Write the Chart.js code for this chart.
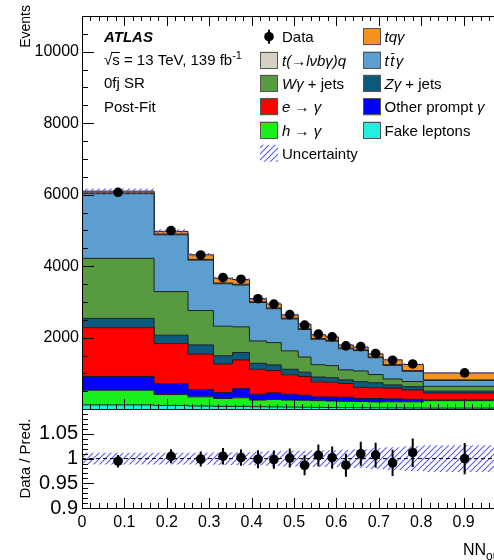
<!DOCTYPE html>
<html>
<head>
<meta charset="utf-8">
<script src="https://cdn.jsdelivr.net/npm/chart.js@4/dist/chart.umd.min.js"></script>
<style>
  html, body { margin: 0; padding: 0; background: #fff; overflow: hidden; width: 494px; height: 560px; }
  #wrap { position: relative; width: 520px; height: 560px; }
</style>
</head>
<body>
<div id="wrap"><canvas id="c" width="520" height="560"></canvas></div>
<script>
// NN output binning (variable width bins)
const binEdges = [0, 0.17, 0.25, 0.31, 0.355, 0.395, 0.435, 0.47, 0.51, 0.54, 0.575, 0.605, 0.64, 0.675, 0.71, 0.755, 0.805, 1.0];

// Post-fit background / signal yields per bin (events), stacked bottom to top
const fakeLeptons = [120, 105, 90, 80, 80, 70, 65, 60, 55, 50, 48, 45, 42, 40, 38, 35, 30];
const hToGamma    = [410, 305, 255, 220, 240, 185, 208, 195, 195, 190, 182, 175, 173, 165, 169, 172, 210];
const otherPrompt = [386, 304, 204, 166, 256, 164, 183, 164, 142, 105, 110, 115, 85, 95, 83, 70, 15];
const eToGamma    = [1364, 1121, 993, 800, 801, 698, 626, 544, 524, 420, 415, 385, 310, 300, 300, 263, 200];
const zGammaJets  = [260, 235, 258, 229, 210, 166, 157, 154, 119, 135, 125, 100, 160, 140, 90, 90, 50];
const wGammaJets  = [1680, 1220, 960, 828, 717, 626, 624, 516, 425, 345, 340, 280, 300, 230, 165, 145, 135];
const ttGamma     = [1810, 1590, 1410, 1187, 1171, 1076, 948, 892, 770, 710, 685, 590, 570, 470, 380, 285, 166];
const tqLvbGamma  = [20, 20, 20, 20, 20, 20, 20, 20, 20, 20, 20, 20, 20, 20, 20, 20, 15];
const tqGamma     = [50, 75, 130, 135, 135, 90, 114, 98, 133, 110, 95, 85, 75, 88, 137, 171, 194];

// Observed data and its statistical uncertainty
const dataEvents = [6068, 4998, 4316, 3682, 3637, 3091, 2939, 2646, 2351, 2099, 2024, 1771, 1752, 1559, 1370, 1266, 1015];
const dataErr    = [78, 71, 66, 61, 60, 56, 54, 51, 48, 46, 45, 42, 42, 39, 37, 36, 32];

// Relative uncertainty on the total prediction
const predRelUnc = [0.012, 0.012, 0.012, 0.013, 0.013, 0.014, 0.015, 0.016, 0.016, 0.017, 0.017, 0.018, 0.019, 0.021, 0.023, 0.025, 0.027];

// Axis tick labels
const xTickValues     = [0, 0.1, 0.2, 0.3, 0.4, 0.5, 0.6, 0.7, 0.8, 0.9, 1];
const mainTickValues  = [2000, 4000, 6000, 8000, 10000];
const ratioTickValues = [0.9, 0.95, 1, 1.05];

const FONT = '"Liberation Sans", Arial, Helvetica, sans-serif';

const layers = [
  { values: fakeLeptons, color: '#22efdf' },
  { values: hToGamma,    color: '#1cf01c' },
  { values: otherPrompt, color: '#0000ff' },
  { values: eToGamma,    color: '#ff0000' },
  { values: zGammaJets,  color: '#0b5a7d' },
  { values: wGammaJets,  color: '#589a40' },
  { values: ttGamma,     color: '#5b9ecf' },
  { values: tqLvbGamma,  color: '#d5d1c5' },
  { values: tqGamma,     color: '#f6931f' }
];
const col = {
  fake: layers[0].color, h: layers[1].color, other: layers[2].color, e: layers[3].color,
  z: layers[4].color, w: layers[5].color, tt: layers[6].color, tql: layers[7].color, tq: layers[8].color
};

const nBins = binEdges.length - 1;
const binCenters = binEdges.slice(0, nBins).map((e, i) => (e + binEdges[i + 1]) / 2);

function stepPoints(vals) {
  const pts = vals.map((v, i) => ({ x: binEdges[i], y: v }));
  pts.push({ x: binEdges[nBins], y: vals[nBins - 1] });
  return pts;
}

// Hatch pattern for the uncertainty band
function makeHatch() {
  const s = 6;
  const c = document.createElement('canvas');
  c.width = s; c.height = s;
  const g = c.getContext('2d');
  g.strokeStyle = 'rgb(90, 90, 245)';
  g.lineWidth = 1.1;
  g.beginPath();
  g.moveTo(0, s); g.lineTo(s, 0);
  g.moveTo(-1, 1); g.lineTo(1, -1);
  g.moveTo(s - 1, s + 1); g.lineTo(s + 1, s - 1);
  g.stroke();
  return g.createPattern(c, 'repeat');
}
const hatch = makeHatch();

const datasets = [];
let running = new Array(nBins).fill(0);
layers.forEach((l, idx) => {
  running = running.map((v, i) => v + l.values[i]);
  datasets.push({
    type: 'line', yAxisID: 'y', data: stepPoints(running.slice()), stepped: true,
    fill: idx === 0 ? 'origin' : '-1', backgroundColor: l.color,
    borderColor: '#1e1e1e', borderWidth: 1, pointRadius: 0, order: 10
  });
});
const totalPred = running;

// Main-panel uncertainty band
datasets.push({
  type: 'line', yAxisID: 'y', data: stepPoints(totalPred.map((t, i) => t * (1 - predRelUnc[i]))),
  stepped: true, fill: false, borderColor: 'rgba(0,0,0,0)', borderWidth: 0, pointRadius: 0, order: 5
});
datasets.push({
  type: 'line', yAxisID: 'y', data: stepPoints(totalPred.map((t, i) => t * (1 + predRelUnc[i]))),
  stepped: true, fill: '-1', backgroundColor: hatch, borderColor: 'rgba(0,0,0,0)', borderWidth: 0, pointRadius: 0, order: 5
});
// Data points
datasets.push({
  type: 'line', yAxisID: 'y', showLine: false, data: binCenters.map((x, i) => ({ x, y: dataEvents[i] })),
  pointRadius: 4.8, pointBackgroundColor: '#000', pointBorderWidth: 0, order: 1
});

// Ratio panel
const ratioVals = dataEvents.map((d, i) => d / totalPred[i]);
const ratioErr = dataErr.map((e, i) => e / totalPred[i]);
datasets.push({
  type: 'line', yAxisID: 'yr', data: stepPoints(predRelUnc.map(u => 1 - u)),
  stepped: true, fill: false, borderColor: 'rgba(0,0,0,0)', borderWidth: 0, pointRadius: 0, order: 5
});
datasets.push({
  type: 'line', yAxisID: 'yr', data: stepPoints(predRelUnc.map(u => 1 + u)),
  stepped: true, fill: '-1', backgroundColor: hatch, borderColor: 'rgba(0,0,0,0)', borderWidth: 0, pointRadius: 0, order: 5
});
datasets.push({
  type: 'line', yAxisID: 'yr', data: [{ x: 0, y: 1 }, { x: 1, y: 1 }],
  borderColor: '#000', borderWidth: 1, borderDash: [4, 3], pointRadius: 0, fill: false, order: 3
});
datasets.push({
  type: 'line', yAxisID: 'yr', showLine: false, data: binCenters.map((x, i) => ({ x, y: ratioVals[i] })),
  pointRadius: 4.8, pointBackgroundColor: '#000', pointBorderWidth: 0, order: 1
});

// Vertical error bars on data points
const errorBars = {
  id: 'errorBars',
  afterDatasetsDraw(chart) {
    const { ctx } = chart;
    const x = chart.scales.x, ym = chart.scales.y, yr = chart.scales.yr;
    ctx.save();
    ctx.strokeStyle = '#000';
    ctx.lineWidth = 2;
    binCenters.forEach((c, i) => {
      const px = x.getPixelForValue(c);
      ctx.beginPath();
      ctx.moveTo(px, ym.getPixelForValue(dataEvents[i] - dataErr[i]));
      ctx.lineTo(px, ym.getPixelForValue(dataEvents[i] + dataErr[i]));
      ctx.moveTo(px, yr.getPixelForValue(ratioVals[i] - ratioErr[i]));
      ctx.lineTo(px, yr.getPixelForValue(ratioVals[i] + ratioErr[i]));
      ctx.stroke();
    });
    ctx.restore();
  }
};

// Frame and inward-pointing tick marks on all sides
const frameTicks = {
  id: 'frameTicks',
  afterDraw(chart) {
    const { ctx } = chart;
    const x = chart.scales.x, ym = chart.scales.y, yr = chart.scales.yr;
    const L = x.left, R = x.right;
    const snap = v => Math.round(v) + 0.5;
    ctx.save();
    ctx.strokeStyle = '#000';
    ctx.lineWidth = 1;
    ctx.beginPath();
    const yTicks = (scale, lo, hi, step, majorEvery, majLen, minLen) => {
      const n = Math.round((hi - lo) / step);
      for (let k = 1; k < n; k++) {
        const v = lo + k * step;
        const major = Math.abs(v / majorEvery - Math.round(v / majorEvery)) < 1e-6;
        const len = major ? majLen : minLen;
        const py = snap(scale.getPixelForValue(v));
        ctx.moveTo(L, py); ctx.lineTo(L + len, py);
        ctx.moveTo(R, py); ctx.lineTo(R - len, py);
      }
    };
    yTicks(ym, 0, 11000, 500, 2000, 12, 6);
    yTicks(yr, 0.9, 1.1, 0.01, 0.05, 12, 6);
    const xTicks = (yEdge, dir, majLen, minLen) => {
      for (let k = 1; k < 50; k++) {
        const v = k * 0.02;
        const major = k % 5 === 0;
        const len = major ? majLen : minLen;
        const px = snap(x.getPixelForValue(v));
        ctx.moveTo(px, yEdge); ctx.lineTo(px, yEdge + dir * len);
      }
    };
    xTicks(ym.top, 1, 10, 5);
    xTicks(ym.bottom, -1, 10, 5);
    xTicks(yr.bottom, -1, 10, 5);
    ctx.stroke();
    ctx.strokeRect(snap(L), snap(ym.top), Math.round(R - L), Math.round(ym.bottom - ym.top));
    ctx.strokeRect(snap(L), snap(yr.top), Math.round(R - L), Math.round(yr.bottom - yr.top));
    ctx.restore();
  }
};

// Rich text helper: runs of normal / italic / bold / sup / sub text
function rich(ctx, x, y, parts, size) {
  let cx = x;
  for (const p of parts) {
    const sz = (p.sup || p.sub) ? Math.round(size * (p.scale || 0.7)) : size;
    ctx.font = `${p.i ? 'italic ' : ''}${p.b ? 'bold ' : ''}${sz}px ${FONT}`;
    const dy = p.sup ? -size * 0.42 : (p.sub ? size * 0.3 : 0);
    ctx.fillText(p.t, cx, y + dy);
    const w = ctx.measureText(p.t).width;
    if (p.bar) ctx.fillRect(cx + 1, Math.round(y - size * 0.86), w - 1, 1);
    cx += w + (p.gap || 0);
  }
  return cx;
}

const annotations = {
  id: 'annotations',
  afterDraw(chart) {
    const { ctx } = chart;
    const ym = chart.scales.y, yr = chart.scales.yr;
    ctx.save();
    ctx.fillStyle = '#000';
    ctx.textBaseline = 'alphabetic';
    ctx.textAlign = 'left';

    // Axis titles
    ctx.save();
    ctx.font = `14px ${FONT}`;
    ctx.translate(30, 5);
    ctx.rotate(-Math.PI / 2);
    ctx.textAlign = 'right';
    ctx.fillText('Events', 0, 0);
    ctx.restore();

    ctx.save();
    ctx.font = `15px ${FONT}`;
    ctx.translate(30, (yr.top + yr.bottom) / 2);
    ctx.rotate(-Math.PI / 2);
    ctx.textAlign = 'center';
    ctx.fillText('Data / Pred.', 0, 0);
    ctx.restore();

    rich(ctx, 463, 555, [{ t: 'NN' }, { t: 'output', sub: true, scale: 0.75 }], 16);

    // ATLAS label block
    rich(ctx, 104, 42, [{ t: 'ATLAS', b: true, i: true }], 15);
    const sx = rich(ctx, 104, 65, [{ t: '\u221A' }], 15);
    ctx.font = `15px ${FONT}`;
    const sw = ctx.measureText('s').width;
    ctx.fillRect(sx - 1, 52, sw + 1, 1);
    rich(ctx, sx, 65, [{ t: 's = 13 TeV, 139 fb' }, { t: '-1', sup: true }], 15);
    rich(ctx, 104, 88, [{ t: '0fj SR' }], 15);
    rich(ctx, 104, 112, [{ t: 'Post-Fit' }], 15);

    // Legend
    const rowY = [36.7, 60, 83.3, 106.7, 130, 153.3];
    const c1 = 260, c2 = 363, bw = 18, bh = 17;
    const box = (bx, cy, color) => {
      ctx.fillStyle = color;
      ctx.fillRect(bx, cy - bh / 2, bw, bh);
      ctx.strokeStyle = '#555';
      ctx.lineWidth = 1;
      ctx.strokeRect(bx + 0.5, Math.round(cy - bh / 2) + 0.5, bw - 1, bh - 1);
      ctx.fillStyle = '#000';
    };
    ctx.beginPath();
    ctx.arc(c1 + bw / 2, rowY[0], 4.8, 0, Math.PI * 2);
    ctx.fill();
    ctx.fillRect(c1 + bw / 2 - 1, rowY[0] - 7, 2, 14);
    const tx1 = c1 + 22, tx2 = c2 + 21.5, dy = 5.5;
    rich(ctx, tx1, rowY[0] + dy, [{ t: 'Data' }], 15);

    box(c1, rowY[1], col.tql);
    rich(ctx, tx1, rowY[1] + dy, [{ t: 't(\u2192l\u03BDb\u03B3)q', i: true }], 15);
    box(c1, rowY[2], col.w);
    rich(ctx, tx1, rowY[2] + dy, [{ t: 'W\u03B3', i: true }, { t: ' + jets' }], 15);
    box(c1, rowY[3], col.e);
    rich(ctx, tx1, rowY[3] + dy, [{ t: 'e', i: true }, { t: ' \u2192 ' }, { t: '\u03B3', i: true }], 15);
    box(c1, rowY[4], col.h);
    rich(ctx, tx1, rowY[4] + dy, [{ t: 'h', i: true }, { t: ' \u2192 ' }, { t: '\u03B3', i: true }], 15);
    ctx.fillStyle = hatch;
    ctx.fillRect(c1, rowY[5] - bh / 2, bw, bh);
    ctx.fillStyle = '#000';
    rich(ctx, tx1, rowY[5] + dy, [{ t: 'Uncertainty' }], 15);

    box(c2, rowY[0], col.tq);
    rich(ctx, tx2, rowY[0] + dy, [{ t: 'tq\u03B3', i: true }], 15);
    box(c2, rowY[1], col.tt);
    rich(ctx, tx2, rowY[1] + dy, [{ t: 't', i: true, gap: 1.5 }, { t: 't', i: true, bar: true, gap: 1.5 }, { t: '\u03B3', i: true }], 15);
    box(c2, rowY[2], col.z);
    rich(ctx, tx2, rowY[2] + dy, [{ t: 'Z\u03B3', i: true }, { t: ' + jets' }], 15);
    box(c2, rowY[3], col.other);
    rich(ctx, tx2, rowY[3] + dy, [{ t: 'Other prompt ' }, { t: '\u03B3', i: true }], 15);
    box(c2, rowY[4], col.fake);
    rich(ctx, tx2, rowY[4] + dy, [{ t: 'Fake leptons' }], 15);

    ctx.restore();
  }
};

const setTicks = values => scale => { scale.ticks = values.map(v => ({ value: v })); };

new Chart(document.getElementById('c'), {
  type: 'line',
  data: { datasets },
  options: {
    responsive: false,
    animation: false,
    events: [],
    layout: { padding: { top: 10, right: 14, left: 0, bottom: 0 } },
    plugins: { legend: { display: false }, tooltip: { enabled: false } },
    scales: {
      x: {
        type: 'linear', min: 0, max: 1,
        afterBuildTicks: setTicks(xTickValues),
        afterFit: s => { s.height = 52; },
        grid: { display: false, drawTicks: false },
        border: { display: false },
        ticks: {
          autoSkip: false, maxRotation: 0, padding: 5, color: '#000',
          font: { family: FONT, size: 16 },
          callback: v => String(v)
        }
      },
      yr: {
        type: 'linear', position: 'left', stack: 'panels', stackWeight: 100,
        min: 0.9, max: 1.1,
        afterBuildTicks: setTicks(ratioTickValues),
        afterFit: s => { s.width = 82; },
        grid: { display: false, drawTicks: false },
        border: { display: false },
        ticks: { autoSkip: false, padding: 4, color: '#000', font: { family: FONT, size: 20 }, callback: v => String(v) }
      },
      y: {
        type: 'linear', position: 'left', stack: 'panels', stackWeight: 398,
        min: 0, max: 11000,
        afterBuildTicks: setTicks(mainTickValues),
        afterFit: s => { s.width = 82; },
        grid: { display: false, drawTicks: false },
        border: { display: false },
        ticks: { autoSkip: false, padding: 3, color: '#000', font: { family: FONT, size: 16 }, callback: v => String(v) }
      }
    }
  },
  plugins: [errorBars, frameTicks, annotations]
});
</script>
</body>
</html>
